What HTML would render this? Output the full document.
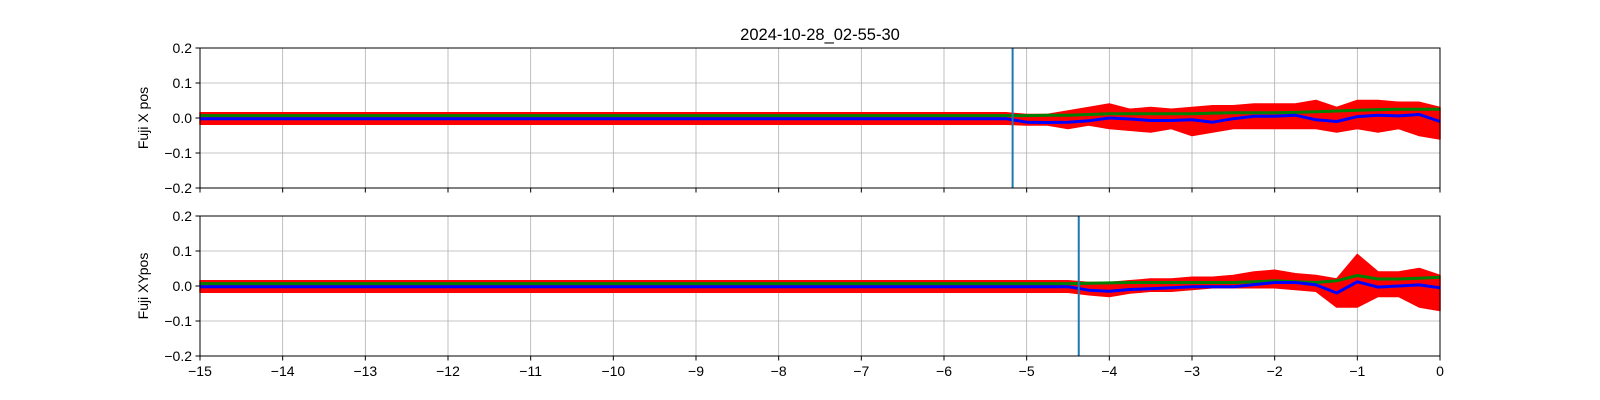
<!DOCTYPE html>
<html><head><meta charset="utf-8"><style>
html,body{margin:0;padding:0;background:#fff;overflow:hidden;width:1600px;height:400px;}
svg{display:block;font-family:"Liberation Sans","DejaVu Sans",sans-serif;}
</style></head><body>
<svg id="c" width="1600" height="400" viewBox="0 0 1600 400" xmlns="http://www.w3.org/2000/svg">
<rect width="1600" height="400" fill="#fff"/>
<text x="820" y="40" font-size="16.5" text-anchor="middle">2024-10-28_02-55-30</text>
</svg>
<script>
// time grid: -15..0 step 0.25 (61 points)
const times = [-15,-14.75,-14.5,-14.25,-14,-13.75,-13.5,-13.25,-13,-12.75,-12.5,-12.25,-12,-11.75,-11.5,-11.25,-11,-10.75,-10.5,-10.25,-10,-9.75,-9.5,-9.25,-9,-8.75,-8.5,-8.25,-8,-7.75,-7.5,-7.25,-7,-6.75,-6.5,-6.25,-6,-5.75,-5.5,-5.25,-5,-4.75,-4.5,-4.25,-4,-3.75,-3.5,-3.25,-3,-2.75,-2.5,-2.25,-2,-1.75,-1.5,-1.25,-1,-0.75,-0.5,-0.25,0];
const flatHi = [0.015,0.015,0.015,0.015,0.015,0.015,0.015,0.015,0.015,0.015,0.015,0.015,0.015,0.015,0.015,0.015,0.015,0.015,0.015,0.015,0.015,0.015,0.015,0.015,0.015,0.015,0.015,0.015,0.015,0.015,0.015,0.015,0.015,0.015,0.015,0.015,0.015,0.015,0.015,0.015];
const flatLo = [-0.018,-0.018,-0.018,-0.018,-0.018,-0.018,-0.018,-0.018,-0.018,-0.018,-0.018,-0.018,-0.018,-0.018,-0.018,-0.018,-0.018,-0.018,-0.018,-0.018,-0.018,-0.018,-0.018,-0.018,-0.018,-0.018,-0.018,-0.018,-0.018,-0.018,-0.018,-0.018,-0.018,-0.018,-0.018,-0.018,-0.018,-0.018,-0.018,-0.018];
const flatG = [0.007,0.007,0.007,0.007,0.007,0.007,0.007,0.007,0.007,0.007,0.007,0.007,0.007,0.007,0.007,0.007,0.007,0.007,0.007,0.007,0.007,0.007,0.007,0.007,0.007,0.007,0.007,0.007,0.007,0.007,0.007,0.007,0.007,0.007,0.007,0.007,0.007,0.007,0.007,0.007];
const flatB = [-0.002,-0.002,-0.002,-0.002,-0.002,-0.002,-0.002,-0.002,-0.002,-0.002,-0.002,-0.002,-0.002,-0.002,-0.002,-0.002,-0.002,-0.002,-0.002,-0.002,-0.002,-0.002,-0.002,-0.002,-0.002,-0.002,-0.002,-0.002,-0.002,-0.002,-0.002,-0.002,-0.002,-0.002,-0.002,-0.002,-0.002,-0.002,-0.002,-0.002];
// top panel tail (-5 .. 0)
const xHiTail = [0.01,0.01,0.02,0.03,0.04,0.025,0.03,0.025,0.03,0.035,0.035,0.04,0.04,0.04,0.05,0.03,0.05,0.05,0.045,0.045,0.03];
const xLoTail = [-0.02,-0.02,-0.03,-0.02,-0.03,-0.035,-0.04,-0.03,-0.05,-0.04,-0.03,-0.03,-0.03,-0.03,-0.03,-0.04,-0.03,-0.04,-0.03,-0.05,-0.06];
const xGreenTail = [0.007,0.008,0.008,0.01,0.012,0.012,0.012,0.012,0.012,0.014,0.015,0.015,0.015,0.016,0.018,0.02,0.022,0.024,0.025,0.025,0.025];
const xBlueTail = [-0.012,-0.013,-0.012,-0.008,0,-0.003,-0.007,-0.007,-0.005,-0.012,-0.002,0.005,0.005,0.008,-0.005,-0.01,0.004,0.008,0.006,0.01,-0.01];
// bottom panel tail (-5 .. 0)
const xyHiTail = [0.015,0.015,0.015,0.01,0.01,0.015,0.02,0.02,0.025,0.025,0.03,0.04,0.045,0.035,0.03,0.02,0.09,0.04,0.04,0.05,0.03];
const xyLoTail = [-0.018,-0.018,-0.018,-0.025,-0.03,-0.02,-0.015,-0.015,-0.01,-0.005,-0.005,-0.005,-0.005,-0.01,-0.015,-0.06,-0.06,-0.03,-0.03,-0.06,-0.07];
const xyGreenTail = [0.007,0.007,0.007,0.008,0.009,0.01,0.01,0.01,0.01,0.01,0.01,0.012,0.015,0.012,0.01,0.015,0.03,0.02,0.02,0.022,0.025];
const xyBlueTail = [-0.002,-0.002,-0.002,-0.012,-0.015,-0.01,-0.008,-0.005,-0.002,-0.002,-0.002,0.004,0.01,0.01,0.003,-0.02,0.012,-0.003,0,0.003,-0.005];
const xTicks = [-15,-14,-13,-12,-11,-10,-9,-8,-7,-6,-5,-4,-3,-2,-1,0];
const yTicks = [-0.2,-0.1,0.0,0.1,0.2];
const yTickLabels = ["\u22120.2","\u22120.1","0.0","0.1","0.2"];
const panelLabels = ["Fuji X pos","Fuji XYpos"];
const vlines = [-5.17,-4.37];

const svg = document.getElementById('c');
const NS = 'http://www.w3.org/2000/svg';
const X0 = 200, X1 = 1440;
const panels = [{top:48,bot:188},{top:216,bot:356}];
const series = [
  {hi:flatHi.concat(xHiTail), lo:flatLo.concat(xLoTail), g:flatG.concat(xGreenTail), b:flatB.concat(xBlueTail)},
  {hi:flatHi.concat(xyHiTail), lo:flatLo.concat(xyLoTail), g:flatG.concat(xyGreenTail), b:flatB.concat(xyBlueTail)}
];
function sx(t){return X0 + (t+15)/15*(X1-X0);}
function mk(tag, attrs){const e=document.createElementNS(NS,tag);for(const k in attrs)e.setAttribute(k,attrs[k]);svg.appendChild(e);return e;}

panels.forEach((p,pi)=>{
  const sy = v => p.bot - (v+0.2)/0.4*(p.bot-p.top);
  const s = series[pi];
  xTicks.forEach(t=>{const l=mk('line',{x1:sx(t),x2:sx(t),y1:p.top,y2:p.bot,stroke:'#b0b0b0','stroke-width':0.8});
    
    });
  yTicks.forEach(v=>{const l=mk('line',{x1:X0,x2:X1,y1:sy(v),y2:sy(v),stroke:'#b0b0b0','stroke-width':0.8});
    
    });
  let d='';
  times.forEach((t,i)=>{d+=(i?'L':'M')+sx(t).toFixed(1)+','+sy(s.hi[i]).toFixed(1);});
  for(let i=times.length-1;i>=0;i--){d+='L'+sx(times[i]).toFixed(1)+','+sy(s.lo[i]).toFixed(1);}
  const band=mk('path',{d:d+'Z',fill:'#ff0000',stroke:'#ff0000','stroke-width':1.5,'stroke-linejoin':'round'});
  
  
  const line=(arr,col,name)=>{let dd='';times.forEach((t,i)=>{dd+=(i?'L':'M')+sx(t).toFixed(1)+','+sy(arr[i]).toFixed(1);});
    const e=mk('path',{d:dd,fill:'none',stroke:col,'stroke-width':3,'stroke-linejoin':'round'});
    
    };
  line(s.g,'#008000','green-series');
  line(s.b,'#0000ff','blue-series');
  const vl=mk('line',{x1:sx(vlines[pi]),x2:sx(vlines[pi]),y1:p.top,y2:p.bot,stroke:'#1f77b4','stroke-width':2});
  
  
  const fr=mk('rect',{x:X0,y:p.top,width:X1-X0,height:p.bot-p.top,fill:'none',stroke:'#000','stroke-width':1});
  
  
  yTicks.forEach((v,i)=>{mk('line',{x1:X0-4.5,x2:X0,y1:sy(v),y2:sy(v),stroke:'#000'});
    const tx=mk('text',{x:X0-8,y:sy(v)+5,'font-size':14,'text-anchor':'end'});tx.textContent=yTickLabels[i];
    
    });
  xTicks.forEach(t=>{mk('line',{x1:sx(t),x2:sx(t),y1:p.bot,y2:p.bot+4.5,stroke:'#000'});
    if(pi===1){const tx=mk('text',{x:sx(t),y:p.bot+20,'font-size':14,'text-anchor':'middle'});tx.textContent=(t<0?'\u2212'+(-t):String(t));
      
      }});
  const yl=mk('text',{x:0,y:0,'font-size':14,'text-anchor':'middle',transform:`translate(148,${(p.top+p.bot)/2}) rotate(-90)`});
  yl.textContent=panelLabels[pi];
  
  
});
</script>
</body></html>
